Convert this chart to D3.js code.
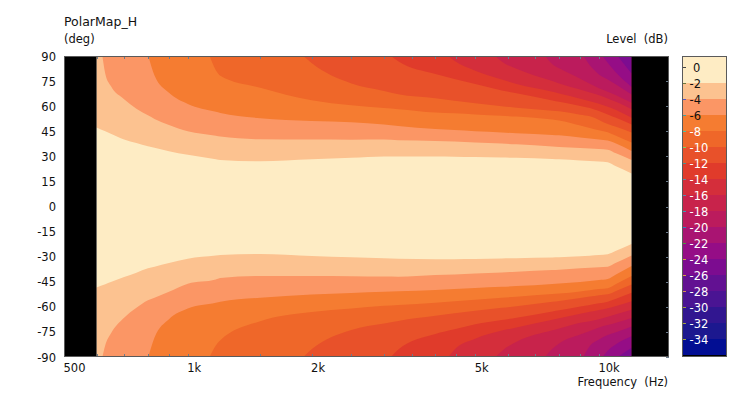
<!DOCTYPE html>
<html><head><meta charset="utf-8">
<script src="https://cdn.jsdelivr.net/npm/d3@7"></script>
<style>
body{margin:0;background:#fff}
svg{display:block}
text{font-family:"DejaVu Sans",Verdana,Tahoma,sans-serif;fill:#111;white-space:pre}
</style>
</head><body>
<svg id="chart" width="740" height="393"></svg>
<script>
// ---------------- data ----------------
const title = "PolarMap_H";
const yUnit = "(deg)";
const levelUnit = "Level  (dB)";
const xTitle = "Frequency  (Hz)";

// frequency columns (Hz) at which contour angles were read
const freqs = [600, 630, 650, 700, 750, 800, 830, 900, 1000, 1170, 1200, 1500, 2000, 2500, 3000, 3250, 4000, 4450, 5000, 5800, 6300, 7700, 8000, 9000, 9500, 10000, 10500, 11000, 12000];
// contour levels (dB)
const levels = [-2, -4, -6, -8, -10, -12, -14, -16, -18, -20, -22, -24];
// frequency where each contour leaves the +/-90 deg edge (null = spans whole range)
const startFreqs = [null, 620, 802, 1130, 1910, 3120, 4300, 5600, 7400, 9160, 10200, 11100];
const _ = null;
// angle (deg) of each contour in the upper half, one row per level
const upperAngles = [
  [47.3, 45.0, 43.5, 40.0, 37.9, 36.0, 35.1, 33.1, 30.9, 28.2, 27.8, 27.0, 28.2, 29.1, 29.9, 29.9, 29.9, 29.8, 29.6, 29.3, 29.1, 28.4, 28.2, 27.5, 27.2, 26.9, 26.4, 24.0, 19.8],
  [_, 79.4, 72.0, 64.2, 58.5, 54.5, 52.4, 48.8, 45.0, 42.3, 41.8, 40.2, 40.0, 39.9, 40.0, 39.6, 39.2, 38.8, 38.2, 37.6, 37.2, 35.9, 35.6, 35.0, 34.7, 34.4, 34.0, 31.8, 27.8],
  [_, _, _, _, _, _, 78.3, 68.0, 61.3, 56.6, 55.9, 52.8, 51.1, 50.4, 49.1, 48.2, 46.3, 45.7, 45.0, 44.3, 43.8, 42.8, 42.6, 41.3, 40.7, 40.1, 39.4, 37.6, 33.2],
  [_, _, _, _, _, _, _, _, _, 81.5, 78.2, 71.0, 63.5, 60.5, 58.9, 58.2, 56.2, 55.7, 55.0, 54.2, 53.8, 52.0, 51.5, 48.4, 47.0, 45.6, 44.4, 42.3, 38.2],
  [_, _, _, _, _, _, _, _, _, _, _, _, 85.8, 73.6, 69.1, 67.2, 64.8, 63.3, 61.8, 60.0, 59.1, 57.3, 56.9, 54.9, 53.9, 51.8, 49.3, 47.7, 44.3],
  [_, _, _, _, _, _, _, _, _, _, _, _, _, _, _, 86.8, 79.2, 76.3, 73.2, 69.4, 67.7, 63.4, 62.6, 60.1, 58.9, 57.1, 55.0, 53.0, 49.1],
  [_, _, _, _, _, _, _, _, _, _, _, _, _, _, _, _, _, 87.1, 81.2, 75.9, 73.3, 68.6, 67.6, 64.5, 63.0, 61.4, 59.6, 57.7, 53.0],
  [_, _, _, _, _, _, _, _, _, _, _, _, _, _, _, _, _, _, _, 86.7, 82.4, 75.0, 73.6, 69.9, 68.1, 66.6, 64.6, 62.6, 58.1],
  [_, _, _, _, _, _, _, _, _, _, _, _, _, _, _, _, _, _, _, _, _, 85.0, 82.6, 76.4, 73.4, 70.7, 68.6, 66.5, 62.0],
  [_, _, _, _, _, _, _, _, _, _, _, _, _, _, _, _, _, _, _, _, _, _, _, _, 84.5, 79.0, 76.0, 72.9, 67.0],
  [_, _, _, _, _, _, _, _, _, _, _, _, _, _, _, _, _, _, _, _, _, _, _, _, _, _, 86.0, 80.1, 71.5],
  [_, _, _, _, _, _, _, _, _, _, _, _, _, _, _, _, _, _, _, _, _, _, _, _, _, _, _, _, 79.5]
];
// angle (deg) of each contour in the lower half
const lowerAngles = [
  [-48.4, -46.5, -45.2, -42.2, -39.6, -37.0, -36.0, -33.8, -31.2, -29.3, -29.0, -28.4, -29.6, -30.4, -31.0, -31.3, -31.6, -31.5, -31.4, -31.1, -30.9, -30.5, -30.4, -29.8, -29.4, -29.0, -28.5, -26.5, -22.4],
  [_, -83.0, -76.0, -66.5, -60.5, -56.0, -54.5, -51.0, -46.2, -43.7, -42.8, -41.6, -41.6, -41.7, -41.9, -42.0, -41.0, -40.7, -40.0, -39.4, -39.0, -38.0, -37.8, -37.0, -36.6, -36.3, -36.0, -33.7, -29.3],
  [_, _, _, _, _, _, -78.4, -67.4, -61.0, -57.5, -56.9, -54.6, -52.6, -51.7, -51.0, -50.7, -49.9, -49.3, -48.7, -48.0, -47.6, -46.3, -46.0, -45.2, -44.6, -44.0, -43.4, -40.7, -35.6],
  [_, _, _, _, _, _, _, _, _, -83.1, -80.0, -68.6, -63.1, -61.0, -59.4, -58.9, -57.6, -56.7, -55.8, -54.6, -54.0, -52.4, -52.1, -50.8, -50.1, -49.4, -48.9, -46.4, -41.6],
  [_, _, _, _, _, _, _, _, _, _, _, _, -85.4, -73.8, -70.0, -68.4, -65.4, -63.9, -62.3, -60.6, -59.6, -57.0, -56.5, -54.7, -53.8, -53.0, -52.5, -50.5, -46.6],
  [_, _, _, _, _, _, _, _, _, _, _, _, _, _, _, -85.5, -76.2, -73.4, -70.4, -67.9, -66.5, -62.8, -62.1, -59.8, -58.9, -57.9, -56.9, -55.1, -51.6],
  [_, _, _, _, _, _, _, _, _, _, _, _, _, _, _, _, _, -85.6, -79.1, -74.2, -72.3, -67.7, -66.8, -64.2, -63.0, -61.9, -60.9, -59.5, -56.6],
  [_, _, _, _, _, _, _, _, _, _, _, _, _, _, _, _, _, _, _, -86.5, -80.9, -74.0, -72.9, -69.5, -68.6, -67.4, -65.9, -64.4, -61.7],
  [_, _, _, _, _, _, _, _, _, _, _, _, _, _, _, _, _, _, _, _, _, -85.1, -81.9, -76.6, -74.5, -72.3, -70.9, -69.5, -66.7],
  [_, _, _, _, _, _, _, _, _, _, _, _, _, _, _, _, _, _, _, _, _, _, _, _, -83.4, -79.5, -76.8, -75.2, -71.7],
  [_, _, _, _, _, _, _, _, _, _, _, _, _, _, _, _, _, _, _, _, _, _, _, _, _, _, -86.2, -82.4, -77.6],
  [_, _, _, _, _, _, _, _, _, _, _, _, _, _, _, _, _, _, _, _, _, _, _, _, _, _, _, _, -84.5]
];
const dataRange = [600, 12000];
const xDomain = [500, 14800];
const yDomain = [90, -90];
const xTickValues = [600, 700, 800, 900, 1000, 1500, 2000, 2500, 3000, 3500, 4000, 4500, 5000, 6000, 7000, 8000, 9000, 10000];
const xLabelValues = [500, 1000, 2000, 5000, 10000];
const xLabelText = ["500", "1k", "2k", "5k", "10k"];
const yTickValues = [90, 75, 60, 45, 30, 15, 0, -15, -30, -45, -60, -75, -90];
// legend
const legendLevels = [0, -2, -4, -6, -8, -10, -12, -14, -16, -18, -20, -22, -24, -26, -28, -30, -32, -34];
const legendDomain = [1.375, -36.25];
// band colours: above -2, -2..-4, -4..-6, ... , -34..-36
const bandColors = ["#feecc4", "#fcc290", "#fb9665", "#f57c31", "#ef6729", "#e8512a", "#e03b2b", "#d42e3b", "#c8234b", "#bb1b5d", "#a91472", "#950d86", "#7c0c90", "#621192", "#4a1493", "#311690", "#1c188f", "#020e93"];
const legendTickColors = ["#444", "#6b7a3c", "#5a56c0", "#44a0a0", "#48c49c", "#7cd060", "#4a9090", "#6a8898", "#5a8ab0", "#34a0b0", "#2a86c0", "#4a9a40", "#d0a040", "#dc9e40", "#d49050", "#a4a040", "#a4a040", "#a4a040"];

// ---------------- drawing ----------------
const svg = d3.select("#chart");
const L = 64, R = 669, T = 56, B = 357;
const x = d3.scaleLog().domain(xDomain).range([L, R]);
const y = d3.scaleLinear().domain(yDomain).range([T, B]);

svg.append("defs").append("clipPath").attr("id", "pc")
  .append("rect").attr("x", L).attr("y", T).attr("width", R - L).attr("height", B - T);
const plot = svg.append("g").attr("clip-path", "url(#pc)");

plot.append("rect")
  .attr("x", x(dataRange[0])).attr("y", T)
  .attr("width", x(dataRange[1]) - x(dataRange[0])).attr("height", B - T)
  .attr("fill", bandColors[0]);

levels.forEach((lev, j) => {
  [[upperAngles[j], 90], [lowerAngles[j], -90]].forEach(([arr, edge]) => {
    const pts = [];
    if (startFreqs[j] != null) pts.push([startFreqs[j], edge]);
    freqs.forEach((f, i) => { if (arr[i] != null) pts.push([f, arr[i]]); });
    const area = d3.area()
      .x(d => x(d[0])).y0(y(edge)).y1(d => y(d[1]))
      .curve(d3.curveMonotoneX);
    plot.append("path").attr("d", area(pts)).attr("fill", bandColors[j + 1]);
  });
});

// no-data regions
plot.append("rect").attr("x", x(xDomain[0])).attr("y", T)
  .attr("width", x(dataRange[0]) - x(xDomain[0])).attr("height", B - T).attr("fill", "#000");
plot.append("rect").attr("x", x(dataRange[1])).attr("y", T)
  .attr("width", x(xDomain[1]) - x(dataRange[1])).attr("height", B - T).attr("fill", "#000");

// ticks
const tickCol = "#6c7c8c";
const tg = svg.append("g").attr("stroke", tickCol).attr("stroke-width", 1);
xTickValues.forEach(v => {
  const xx = Math.round(x(v)) + 0.5;
  tg.append("line").attr("x1", xx).attr("x2", xx).attr("y1", T).attr("y2", T + 3);
  tg.append("line").attr("x1", xx).attr("x2", xx).attr("y1", B).attr("y2", B - 3);
});
yTickValues.forEach(v => {
  const yy = Math.round(y(v)) + 0.5;
  tg.append("line").attr("x1", R).attr("x2", R - 3).attr("y1", yy).attr("y2", yy);
});

// frame
svg.append("rect").attr("x", L + 0.5).attr("y", T + 0.5).attr("width", R - L - 1).attr("height", B - T - 1)
  .attr("fill", "none").attr("stroke", "#5a5a5a").attr("stroke-width", 1);

// axis labels
svg.append("g").selectAll("text").data(yTickValues).join("text")
  .attr("x", 56).attr("y", d => y(d) + 4.5).attr("text-anchor", "end")
  .attr("font-size", 11.5).text(d => d);
svg.append("g").selectAll("text").data(xLabelValues).join("text")
  .attr("x", d => x(d) - 0.5).attr("y", 372).attr("text-anchor", "start")
  .attr("font-size", 11.5).text((d, i) => xLabelText[i]);

svg.append("text").attr("x", 64).attr("y", 26).attr("font-size", 12.5).text(title);
svg.append("text").attr("x", 64).attr("y", 43).attr("font-size", 11.5).text(yUnit);
svg.append("text").attr("x", 668).attr("y", 43).attr("text-anchor", "end").attr("font-size", 11.5).text(levelUnit);
svg.append("text").attr("x", 668).attr("y", 386).attr("text-anchor", "end").attr("font-size", 11.5).text(xTitle);

// legend
const LL = 682, LR = 727;
const ly = d3.scaleLinear().domain(legendDomain).range([T, B]);
const lg = svg.append("g");
bandColors.forEach((c, k) => {
  const top = k === 0 ? legendDomain[0] : -2 * k;
  const bot = -2 * (k + 1);
  lg.append("rect").attr("x", LL).attr("y", ly(top)).attr("width", LR - LL)
    .attr("height", ly(bot) - ly(top)).attr("fill", c);
});
lg.append("rect").attr("x", LL).attr("y", ly(-36)).attr("width", LR - LL)
  .attr("height", ly(legendDomain[1]) - ly(-36)).attr("fill", "#000");
legendLevels.forEach((v, k) => {
  const yy = Math.round(ly(v)) + 0.5;
  lg.append("line").attr("x1", LL).attr("x2", LL + 4).attr("y1", yy).attr("y2", yy)
    .attr("stroke", legendTickColors[k]).attr("stroke-width", 1);
  lg.append("text").attr("x", v === 0 ? 693 : 689.5).attr("y", ly(v) + 4.5)
    .attr("font-size", 11.5).style("fill", v >= -6 ? "#111" : "#fff").text(v);
});
lg.append("rect").attr("x", LL + 0.5).attr("y", T + 0.5).attr("width", LR - LL - 1).attr("height", B - T - 1)
  .attr("fill", "none").attr("stroke", "#5a5a5a").attr("stroke-width", 1);
</script>
</body></html>
